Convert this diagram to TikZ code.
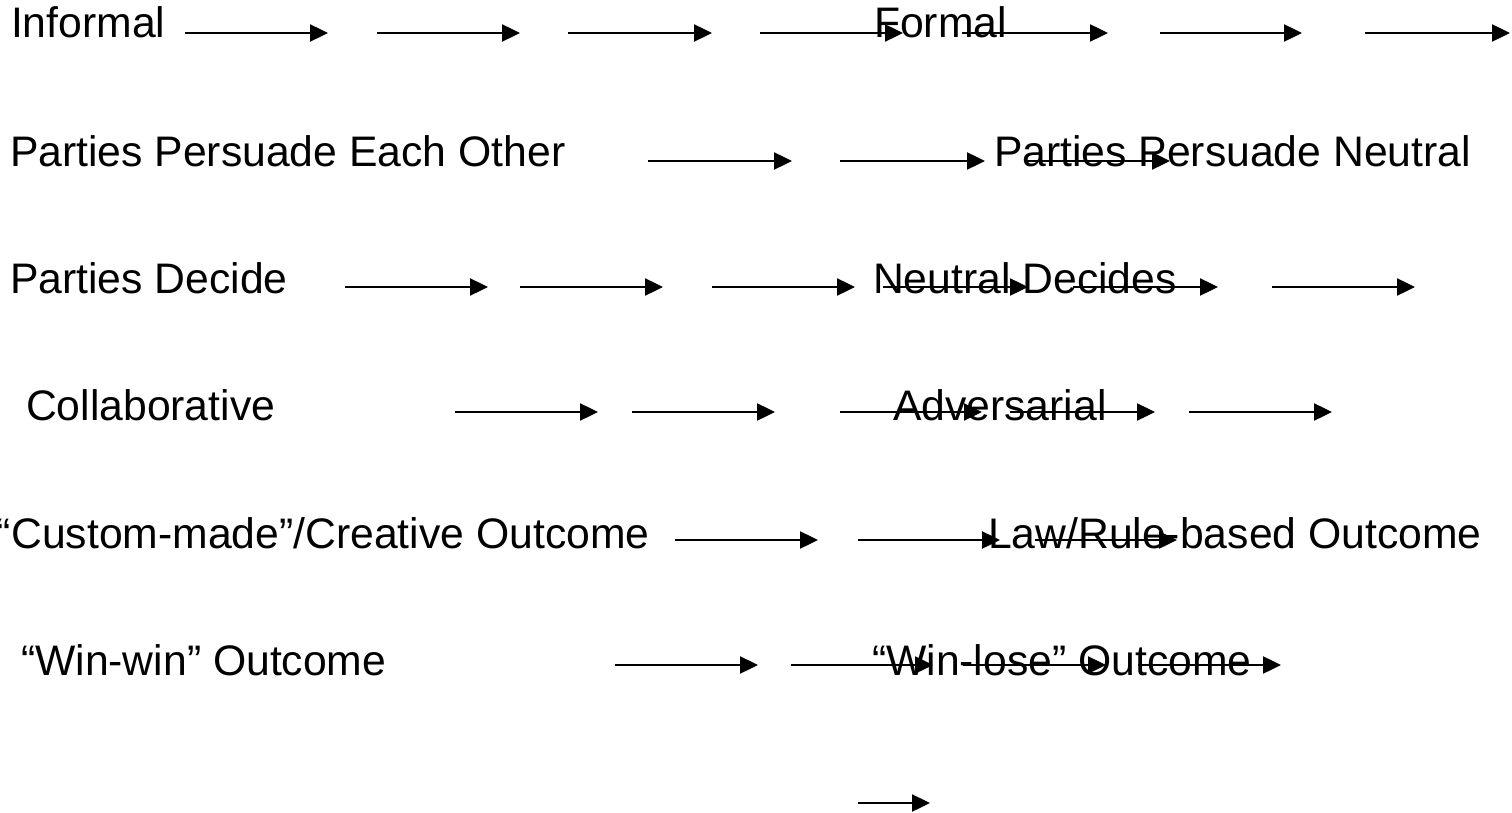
\documentclass[tikz,border=0pt]{standalone}
\usepackage{fontspec}
\setmainfont{Liberation Sans}
\usetikzlibrary{arrows.meta}
\tikzset{
  lbl/.style={anchor=base west, inner sep=0pt, outer sep=0pt, font=\fontsize{42.7}{50}\selectfont},
  arr/.style={line width=2.4pt, -{Triangle[length=18pt,width=17pt]}}
}
\newcommand{\myarrow}[4]{%
  \coordinate (#1s) at (#2,#4);
  \coordinate (#1e) at (#3,#4);
  \draw[arr] (#1s) -- (#1e);
}
\begin{document}
\begin{tikzpicture}[x=1pt,y=-1pt]
\useasboundingbox (0,0) rectangle (1512,813);
% texts
\node[lbl] (informal) at (11,38) {Informal};
\node[lbl] (formal) at (874,38) {Formal};
\node[lbl] (ppeo) at (10,167) {Parties Persuade Each Other};
\node[lbl] (ppn) at (994,167) {Parties Persuade Neutral};
\node[lbl] (pd) at (10,293) {Parties Decide};
\node[lbl] (nd) at (873,293) {Neutral Decides};
\node[lbl] (collab) at (26,420) {Collaborative};
\node[lbl] (adv) at (893,420) {Adversarial};
\node[lbl] (custom) at (-3,548) {“Custom-made”/Creative Outcome};
\node[lbl] (law) at (988,548) {Law/Rule-based Outcome};
\node[lbl] (ww) at (21,675) {“Win-win” Outcome};
\node[lbl] (wl) at (872,675) {“Win-lose” Outcome};
% row 1
\myarrow{a1}{185}{328}{33}
\myarrow{a2}{377}{520}{33}
\myarrow{a3}{568}{712}{33}
\myarrow{a4}{760}{903}{33}
\myarrow{a5}{962}{1108}{33}
\myarrow{a6}{1160}{1302}{33}
\myarrow{a7}{1365}{1510}{33}
% row 2
\myarrow{b1}{648}{792}{161}
\myarrow{b2}{840}{985}{161}
\myarrow{b3}{1025}{1170}{161}
% row 3
\myarrow{c1}{345}{488}{287}
\myarrow{c2}{520}{663}{287}
\myarrow{c3}{712}{855}{287}
\myarrow{c4}{883}{1028}{287}
\myarrow{c5}{1073}{1218}{287}
\myarrow{c6}{1272}{1415}{287}
% row 4
\myarrow{d1}{455}{598}{412}
\myarrow{d2}{632}{775}{412}
\myarrow{d3}{840}{982}{412}
\myarrow{d4}{1010}{1155}{412}
\myarrow{d5}{1189}{1332}{412}
% row 5
\myarrow{e1}{675}{818}{540}
\myarrow{e2}{858}{1000}{540}
\myarrow{e3}{1035}{1177}{540}
% row 6
\myarrow{f1}{615}{758}{665}
\myarrow{f2}{791}{933}{665}
\myarrow{f3}{963}{1106}{665}
\myarrow{f4}{1138}{1281}{665}
% row 7
\myarrow{g1}{858}{930}{803}
\end{tikzpicture}
\end{document}
